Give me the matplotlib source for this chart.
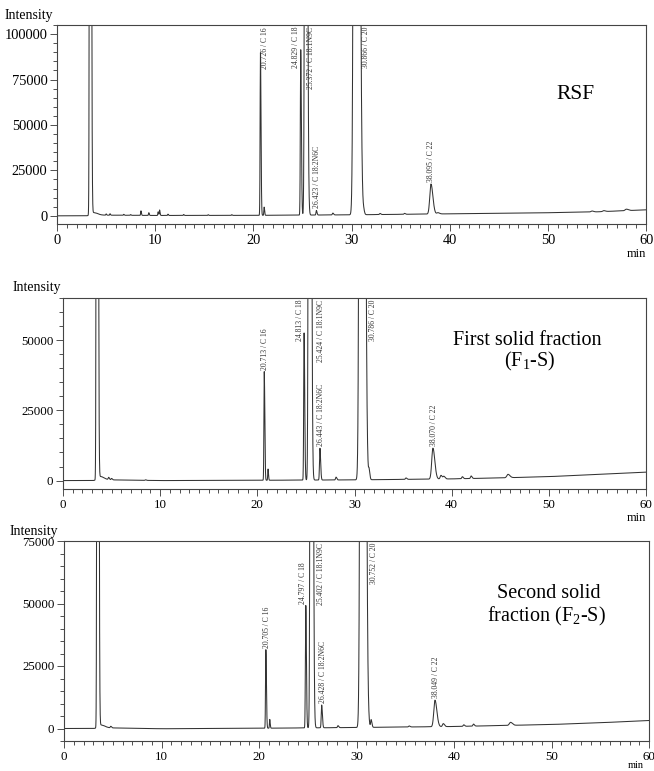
import numpy as np
import matplotlib.pyplot as plt
from matplotlib.ticker import MultipleLocator

plt.rcParams['font.family'] = 'Liberation Serif'

W, H = 654, 771

# ---- RSF: peak table (retention time, height, sigma)
rsf_rt = [3.38, 3.70, 5.0, 5.4, 6.8, 7.5, 8.55, 9.35, 10.3, 10.45, 11.3, 12.9, 15.4, 17.8,
          20.726, 21.10, 24.829, 25.33, 26.423, 28.10, 30.45, 31.25, 32.9, 35.4,
          38.095, 38.8, 54.5, 55.7, 58.0]
rsf_height = [1.2e6, 1500, 700, 800, 500, 400, 2500, 1500, 2000, 3000, 700, 500, 400, 400,
              89500, 4500, 91000, 9.0e5, 2500, 1000, 1.6e6, 1500, 600, 500,
              16500, 700, 500, 500, 800]
rsf_sigma = [0.05, 0.25, 0.03, 0.03, 0.03, 0.03, 0.03, 0.03, 0.03, 0.03, 0.03, 0.03, 0.03, 0.03,
             0.035, 0.03, 0.04, 0.075, 0.04, 0.05, 0.14, 0.05, 0.05, 0.05,
             0.12, 0.1, 0.1, 0.1, 0.12]
rsf_base_t = [0, 3.2, 4.0, 10, 20, 30, 40, 50, 55, 60]
rsf_base_v = [0, 0, 400, 200, 250, 550, 1100, 1700, 2200, 3300]
rsf_label_rt = [20.726, 24.829, 25.372, 26.423, 30.866, 38.095]
rsf_labels = ['20.726 / C 16', '24.829 / C 18', '25.372 / C 18:1N9C',
              '26.423 / C 18:2N6C', '30.866 / C 20', '38.095 / C 22']

# ---- First solid fraction (F1-S)
f1_rt = [3.50, 3.80, 4.7, 5.0, 8.5, 20.713, 21.10, 24.813, 25.37, 26.443, 28.10,
         30.72, 31.50, 35.3, 38.070, 38.9, 39.2, 41.1, 42.0, 45.8]
f1_height = [1.0e6, 1200, 800, 500, 200, 38700, 4000, 52400, 8.0e5, 11300, 1000,
             1.2e6, 3200, 500, 11000, 1300, 900, 700, 900, 1200]
f1_sigma = [0.05, 0.25, 0.05, 0.05, 0.05, 0.035, 0.03, 0.04, 0.075, 0.045, 0.05,
            0.13, 0.05, 0.06, 0.12, 0.08, 0.08, 0.06, 0.06, 0.12]
f1_base_t = [0, 3.3, 4.0, 10, 20, 30, 40, 45, 50, 55, 60]
f1_base_v = [0, 0, 300, 0, 100, 250, 600, 950, 1400, 2200, 3000]
f1_label_rt = [20.713, 24.813, 25.424, 26.443, 30.786, 38.070]
f1_labels = ['20.713 / C 16', '24.813 / C 18', '25.424 / C 18:1N9C',
             '26.443 / C 18:2N6C', '30.786 / C 20', '38.070 / C 22']

# ---- Second solid fraction (F2-S)
f2_rt = [3.45, 3.75, 4.8, 20.705, 21.10, 24.797, 25.36, 26.428, 28.10,
         30.60, 31.50, 35.4, 38.049, 38.9, 41.0, 42.0, 45.8]
f2_height = [1.0e6, 1200, 600, 31400, 3500, 49000, 8.0e5, 9100, 800,
             1.2e6, 3000, 400, 10600, 1200, 600, 800, 1200]
f2_sigma = [0.05, 0.25, 0.05, 0.035, 0.03, 0.04, 0.075, 0.045, 0.05,
            0.13, 0.05, 0.06, 0.12, 0.08, 0.06, 0.06, 0.12]
f2_base_t = [0, 3.3, 4.0, 10, 20, 30, 40, 50, 55, 60]
f2_base_v = [0, 0, 300, -100, 100, 400, 800, 1600, 2300, 3200]
f2_label_rt = [20.705, 24.797, 25.402, 26.428, 30.752, 38.049]
f2_labels = ['20.705 / C 16', '24.797 / C 18', '25.402 / C 18:1N9C',
             '26.428 / C 18:2N6C', '30.752 / C 20', '38.049 / C 22']


def trace(rt, height, sigma, base_t, base_v):
    t = np.linspace(0, 60, 12001)
    y = np.interp(t, base_t, base_v)
    for r, h, s in zip(rt, height, sigma):
        s_eff = np.where(t < r, s, s * 1.6)   # slight tailing
        y = y + h * np.exp(-0.5 * ((t - r) / s_eff) ** 2)
    return t, y


def box(l, t, r, b):
    return [l / W, (H - b) / H, (r - l) / W, (b - t) / H]


fig = plt.figure(figsize=(W / 100, H / 100), dpi=100)

panels = [
    dict(rect=box(57, 25, 646, 224), ylim=(-4500, 105000), yt=[0, 25000, 50000, 75000, 100000],
         data=(rsf_rt, rsf_height, rsf_sigma, rsf_base_t, rsf_base_v),
         lrt=rsf_label_rt, labels=rsf_labels, dx=[0.5, -0.5, 0.5, 0.1, 0.65, 0.0],
         fs=10.4, intensity=(5, 15), mn=(636, 254), mfs=9),
    dict(rect=box(63, 298, 646, 489), ylim=(-3000, 65000), yt=[0, 25000, 50000],
         data=(f1_rt, f1_height, f1_sigma, f1_base_t, f1_base_v),
         lrt=f1_label_rt, labels=f1_labels, dx=[0.1, -0.42, 1.1, 0.1, 1.15, 0.1],
         fs=9.3, intensity=(13, 288), mn=(636, 518), mfs=9),
    dict(rect=box(64, 541, 649, 741), ylim=(-5000, 75000), yt=[0, 25000, 50000, 75000],
         data=(f2_rt, f2_height, f2_sigma, f2_base_t, f2_base_v),
         lrt=f2_label_rt, labels=f2_labels, dx=[0.1, -0.32, 0.95, 0.1, 1.05, 0.15],
         fs=9.3, intensity=(10, 531), mn=(636, 766), mfs=7.5),
]

axes = []
for p in panels:
    ax = fig.add_axes(p['rect'])
    t, y = trace(*p['data'])
    ax.plot(t, y, color='#333333', lw=0.75)
    ax.set_xlim(0, 60)
    ax.set_ylim(*p['ylim'])
    ax.set_xticks(range(0, 61, 10))
    ax.xaxis.set_minor_locator(MultipleLocator(1))
    ax.set_yticks(p['yt'])
    ax.yaxis.set_minor_locator(MultipleLocator(5000))
    ax.tick_params(which='major', direction='out', length=5, width=0.6, pad=2,
                   labelsize=p['fs'], color='#333333')
    ax.tick_params(which='minor', direction='out', length=3, width=0.6, color='#333333')
    for s in ax.spines.values():
        s.set_linewidth(0.8)
        s.set_color('#444444')
    fig.text(p['intensity'][0] / W, 1 - p['intensity'][1] / H, 'Intensity',
             ha='left', va='center', fontsize=10)
    fig.text(p['mn'][0] / W, 1 - p['mn'][1] / H, 'min', ha='center', va='center',
             fontsize=p['mfs'])
    axes.append((ax, p, t, y))

# panel captions
axes[0][0].text(52.8, 67000, 'RSF', ha='center', va='center', fontsize=15.5)
axes[1][0].text(47.8, 50000, 'First solid fraction', ha='center', va='center', fontsize=14.5)
axes[1][0].text(48.0, 42500, '(F$_\\mathregular{1}$-S)', ha='center', va='center', fontsize=14.5)
axes[2][0].text(49.7, 54000, 'Second solid', ha='center', va='center', fontsize=14.5)
axes[2][0].text(49.5, 45000, 'fraction (F$_\\mathregular{2}$-S)', ha='center', va='center', fontsize=14.5)

# peak labels, clamped to the top of the frame when they would run off
fig.canvas.draw()
renderer = fig.canvas.get_renderer()
for ax, p, t, y in axes:
    top = p['ylim'][1]
    pad = 0.01 * (top - p['ylim'][0])
    for r, lab, dx in zip(p['lrt'], p['labels'], p['dx']):
        h = min(np.interp(r, t, y), top)
        txt = ax.text(r + dx, h + pad, lab, rotation=90, ha='center', va='bottom',
                      fontsize=5.5, color='#333333')
        bb = txt.get_window_extent(renderer)
        if bb.y1 > ax.get_window_extent(renderer).y1 - 1:
            txt.set_y(top - pad)
            txt.set_va('top')

fig.savefig('out.png', dpi=100)
